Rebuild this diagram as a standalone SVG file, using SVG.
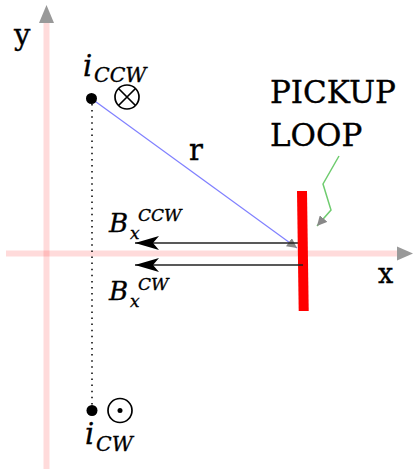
<svg xmlns="http://www.w3.org/2000/svg" width="413" height="469" viewBox="0 0 413 469">
<style>
.axis{stroke:#ff0000;stroke-opacity:0.14;stroke-width:6;fill:none}
.t{font-family:"DejaVu Serif","Liberation Serif",serif;fill:#000;stroke:#000;stroke-width:0.35}
.it{font-style:italic}
.darr{stroke:#222;stroke-width:1.6;fill:none}
</style>
<defs>
<marker id="smallgray" viewBox="0 0 10 10" refX="10" refY="5" markerWidth="10" markerHeight="10" markerUnits="userSpaceOnUse" orient="auto">
<path d="M0,0 L10,5 L0,10 Z" fill="#888"/>
</marker>
<marker id="stealth" viewBox="0 0 24 14" refX="24" refY="7" markerWidth="24" markerHeight="14" markerUnits="userSpaceOnUse" orient="auto">
<path d="M0,0 L24,7 L0,14 L6,7 Z" fill="#000"/>
</marker>
</defs>
<g id="axes">
<line class="axis" x1="46.5" y1="469" x2="46.5" y2="23"/>
<path d="M46.5,5 L54,23 L39,23 Z" fill="#999"/>
<line class="axis" x1="6" y1="253.5" x2="397" y2="253.5"/>
<path d="M413,253.5 L397,246.5 L397,260.5 Z" fill="#999"/>
<text class="t" x="14" y="45" font-size="29">y</text>
<text class="t" x="378" y="283" font-size="27">x</text>
</g>
<g id="connectors">
<line x1="92" y1="104" x2="92" y2="405" stroke="#000" stroke-width="1.5" stroke-dasharray="1.5 4.6"/>
<line x1="92" y1="99" x2="297" y2="248" stroke="#8080ff" stroke-width="1.2" marker-end="url(#smallgray)"/>
<line class="darr" x1="298" y1="243" x2="135" y2="243" marker-end="url(#stealth)"/>
<path d="M339,156 L323,184 L331,210 L317,226" stroke="#6fcc6f" stroke-width="1.5" fill="none" marker-end="url(#smallgray)"/>
</g>
<g id="pickup-loop">
<line x1="302" y1="191" x2="303.7" y2="311" stroke="#ff0000" stroke-width="10"/>
<text class="t" x="270" y="103" font-size="31">PICKUP</text>
<text class="t" x="270" y="146" font-size="31">LOOP</text>
</g>
<g id="bx-cw-arrow">
<line class="darr" x1="303" y1="265" x2="135" y2="265" marker-end="url(#stealth)"/>
</g>
<g id="i-ccw">
<circle cx="91.5" cy="98.5" r="5.5" fill="#000"/>
<circle cx="127" cy="97" r="12" fill="none" stroke="#000" stroke-width="1.7"/>
<path d="M118.5,88.5 L135.5,105.5 M135.5,88.5 L118.5,105.5" stroke="#000" stroke-width="1.7"/>
<text class="t it" x="83" y="76" font-size="29">i</text>
<text class="t it" x="94" y="82" font-size="20.5">CCW</text>
</g>
<g id="i-cw">
<circle cx="92" cy="410.5" r="5.5" fill="#000"/>
<circle cx="120" cy="410.5" r="12" fill="none" stroke="#000" stroke-width="1.7"/>
<circle cx="120" cy="410.5" r="2.5" fill="#000"/>
<text class="t it" x="85" y="444" font-size="29">i</text>
<text class="t it" x="96" y="451" font-size="20.5">CW</text>
</g>
<g id="label-r">
<text class="t" x="189" y="160" font-size="29">r</text>
</g>
<g id="label-bx-ccw">
<text class="t it" x="109" y="232" font-size="26">B</text>
<text class="t it" x="130" y="239" font-size="17">x</text>
<text class="t it" x="138" y="221" font-size="17">CCW</text>
</g>
<g id="label-bx-cw">
<text class="t it" x="109" y="300" font-size="26">B</text>
<text class="t it" x="130" y="307" font-size="17">x</text>
<text class="t it" x="138" y="290" font-size="17">CW</text>
</g>
</svg>
